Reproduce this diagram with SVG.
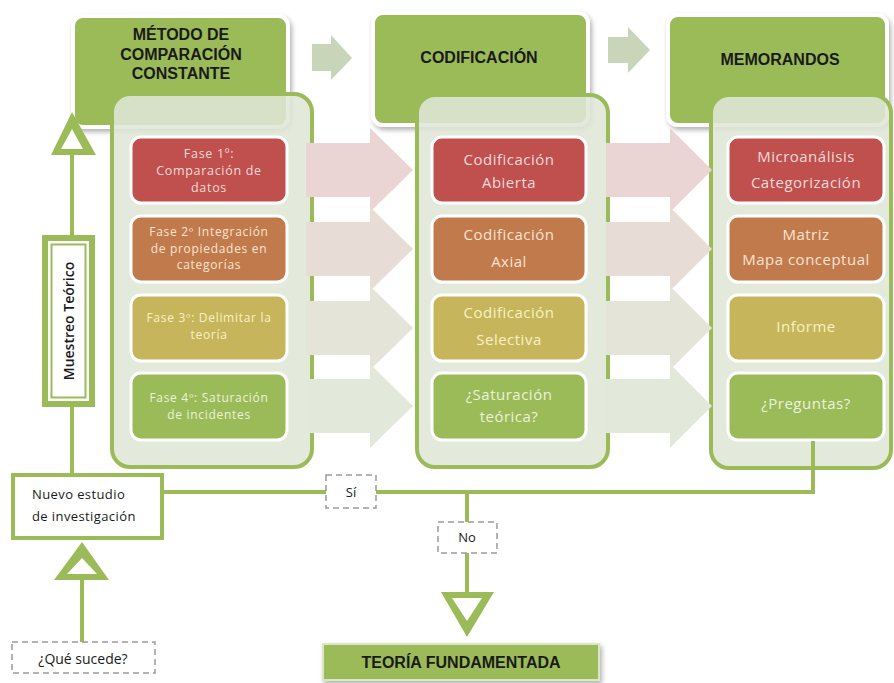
<svg xmlns="http://www.w3.org/2000/svg" width="894" height="683" viewBox="0 0 894 683">
<defs>
<filter id="sh" x="-10%" y="-10%" width="130%" height="130%"><feDropShadow dx="2" dy="3" stdDeviation="2.5" flood-color="#000" flood-opacity="0.3"/></filter>
<style>
.hdr{fill:#9bbb59;stroke:#fff;stroke-width:4;filter:url(#sh)}
.ht{font-family:"Liberation Sans",Arial,sans-serif;font-weight:bold;font-size:16px;fill:#1a1a1a;text-anchor:middle}
.tarr{fill:#c8d5b9}
.pan{fill:#dfe6d6;fill-opacity:0.88;stroke:#9bbb59;stroke-width:4}
.box{stroke:#fff;stroke-width:3}
.red{fill:#c0504d}.org{fill:#c17a4c}.olv{fill:#c7b55b}.grn{fill:#9bbb59}
.ar{fill:#ebd4d4}.ao{fill:#e7ddd6}.av{fill:#e5e4d8}.ag{fill:#e2e9da}
.t{font-family:"Open Sans","Liberation Sans",sans-serif;text-anchor:middle}
.p1{font-size:12px;letter-spacing:0.7px}
.p2{font-size:15px;letter-spacing:0.5px}
.tr{fill:#f3dada}.to{fill:#fbe3d2}.tv{fill:#f9f1c6}.tg{fill:#ebf2dc}
.ln{fill:none;stroke:#9bbb59;stroke-width:4}
.tri{fill:#9bbb59}
.tin{fill:#fff}
.dash{fill:#fff;stroke:#9a9a9a;stroke-width:1.5;stroke-dasharray:6 4}
.lbl{font-family:"Open Sans","Liberation Sans",sans-serif;font-size:13px;fill:#1a1a1a}
</style>
</defs>
<rect width="894" height="683" fill="#fff"/>

<g id="hdr-metodo">
<rect class="hdr" x="73" y="16" width="215" height="111" rx="10"/>
<text class="ht" x="181" y="40">MÉTODO DE</text>
<text class="ht" x="181" y="60">COMPARACIÓN</text>
<text class="ht" x="181" y="79">CONSTANTE</text>
</g>
<g id="hdr-codificacion">
<rect class="hdr" x="373" y="13" width="215" height="112" rx="10"/>
<text class="ht" x="479" y="63">CODIFICACIÓN</text>
</g>
<g id="hdr-memorandos">
<rect class="hdr" x="668" y="15" width="219" height="110" rx="10"/>
<text class="ht" x="780" y="65">MEMORANDOS</text>
</g>
<g id="top-arrows">
<path class="tarr" d="M312,44 L331,44 L331,35 L352,58 L331,80 L331,71 L312,71 Z"/>
<path class="tarr" d="M608,37 L628,37 L628,27 L650,50 L628,73 L628,63 L608,63 Z"/>
</g>

<g id="panels">
<rect class="pan" x="112" y="94" width="200" height="373" rx="18"/>
<rect class="pan" x="417" y="95" width="191" height="372" rx="18"/>
<rect class="pan" x="711" y="95" width="180" height="373" rx="18"/>
</g>

<g id="row-arrows">
<path class="ar" d="M306,143 L370,143 L370,128 L413,170 L370,212 L370,197 L306,197 Z"/>
<path class="ao" d="M306,222 L370,222 L370,207 L413,249 L370,291 L370,276 L306,276 Z"/>
<path class="av" d="M306,301 L370,301 L370,286 L413,328 L370,370 L370,355 L306,355 Z"/>
<path class="ag" d="M306,379 L370,379 L370,364 L413,406 L370,448 L370,433 L306,433 Z"/>
<path class="ar" d="M606,143 L670,143 L670,128 L712,170 L670,212 L670,197 L606,197 Z"/>
<path class="ao" d="M606,222 L670,222 L670,207 L712,249 L670,291 L670,276 L606,276 Z"/>
<path class="av" d="M606,301 L670,301 L670,286 L712,328 L670,370 L670,355 L606,355 Z"/>
<path class="ag" d="M606,379 L670,379 L670,364 L712,406 L670,448 L670,433 L606,433 Z"/>
</g>

<g id="fase1">
<rect class="box red" x="131" y="137" width="156" height="66" rx="10"/>
<text class="t p1 tr" style="font-size:12.5px" x="209" y="158">Fase 1º:</text>
<text class="t p1 tr" style="font-size:12.5px" x="209" y="175">Comparación de</text>
<text class="t p1 tr" style="font-size:12.5px" x="209" y="192">datos</text>
</g>
<g id="fase2">
<rect class="box org" x="131" y="216" width="156" height="66" rx="10"/>
<text class="t p1 to" x="209" y="236">Fase 2º Integración</text>
<text class="t p1 to" x="209" y="252.5">de propiedades en</text>
<text class="t p1 to" x="209" y="269">categorías</text>
</g>
<g id="fase3">
<rect class="box olv" x="131" y="295" width="156" height="66" rx="10"/>
<text class="t p1 tv" x="209" y="322">Fase 3º: Delimitar la</text>
<text class="t p1 tv" x="209" y="339">teoría</text>
</g>
<g id="fase4">
<rect class="box grn" x="131" y="373" width="156" height="67" rx="10"/>
<text class="t p1 tg" x="209" y="402">Fase 4º: Saturación</text>
<text class="t p1 tg" x="209" y="419">de incidentes</text>
</g>

<g id="cod-abierta">
<rect class="box red" x="432" y="137" width="154" height="66" rx="10"/>
<text class="t p2 tr" x="509" y="165">Codificación</text>
<text class="t p2 tr" x="509" y="188">Abierta</text>
</g>
<g id="cod-axial">
<rect class="box org" x="432" y="216" width="154" height="66" rx="10"/>
<text class="t p2 to" x="509" y="240">Codificación</text>
<text class="t p2 to" x="509" y="267">Axial</text>
</g>
<g id="cod-selectiva">
<rect class="box olv" x="432" y="295" width="154" height="66" rx="10"/>
<text class="t p2 tv" x="509" y="318">Codificación</text>
<text class="t p2 tv" x="509" y="345">Selectiva</text>
</g>
<g id="saturacion">
<rect class="box grn" x="432" y="373" width="154" height="67" rx="10"/>
<text class="t p2 tg" x="509" y="400">¿Saturación</text>
<text class="t p2 tg" x="509" y="422">teórica?</text>
</g>

<g id="microanalisis">
<rect class="box red" x="728" y="137" width="156" height="66" rx="10"/>
<text class="t p2 tr" x="806" y="162">Microanálisis</text>
<text class="t p2 tr" x="806" y="188">Categorización</text>
</g>
<g id="matriz">
<rect class="box org" x="728" y="216" width="156" height="66" rx="10"/>
<text class="t p2 to" x="806" y="240">Matriz</text>
<text class="t p2 to" x="806" y="265">Mapa conceptual</text>
</g>
<g id="informe">
<rect class="box olv" x="728" y="295" width="156" height="66" rx="10"/>
<text class="t p2 tv" x="806" y="332">Informe</text>
</g>
<g id="preguntas">
<rect class="box grn" x="728" y="373" width="156" height="67" rx="10"/>
<text class="t p2 tg" x="806" y="409">¿Preguntas?</text>
</g>

<g id="connectors">
<path class="ln" d="M72,155 V235 M72,407 V475"/>
<path class="ln" d="M162,492 H813 V441"/>
<path class="ln" d="M467,492 V522 M467,553 V593"/>
<path class="ln" d="M82,579 V642"/>
<polygon class="tri" points="72,112 51,155 96,155"/>
<polygon class="tin" points="72,129 61,149 83,149"/>
<polygon class="tri" points="82,542 54,580 109,580"/>
<polygon class="tin" points="82,558 67,574 97,574"/>
<polygon class="tri" points="441,592 494,592 467,637"/>
<polygon class="tin" points="452,598 482,598 467,621"/>
<g id="label-si">
<rect class="dash" x="326" y="475" width="50" height="33"/>
<text class="lbl" x="351" y="497" text-anchor="middle">Sí</text>
</g>
<g id="label-no">
<rect class="dash" x="438" y="522" width="59" height="31"/>
<text class="lbl" x="467" y="542" text-anchor="middle">No</text>
</g>
</g>

<g id="muestreo">
<rect x="42" y="235" width="53" height="172" fill="#9bbb59"/>
<rect x="48" y="241" width="41" height="160" fill="#fff"/>
<rect x="51.5" y="244.5" width="34" height="153" fill="#fff" stroke="#9bbb59" stroke-width="2"/>
<text class="lbl" style="font-size:14px;font-weight:600" transform="translate(74,321) rotate(-90)" text-anchor="middle">Muestreo Teórico</text>
</g>

<g id="nuevo-estudio">
<rect x="13" y="475" width="149" height="63" fill="#fff" stroke="#9bbb59" stroke-width="4"/>
<text class="lbl" x="32" y="499" style="letter-spacing:0.4px">Nuevo estudio</text>
<text class="lbl" x="32" y="521" style="letter-spacing:0.4px">de investigación</text>
</g>

<g id="que-sucede">
<rect class="dash" x="12" y="642" width="143" height="31"/>
<text class="lbl" x="83" y="664" text-anchor="middle" style="font-size:14px">¿Qué sucede?</text>
</g>

<g id="teoria">
<rect x="323" y="644" width="276" height="36" fill="#9bbb59" stroke="#dbe6c6" stroke-width="2" filter="url(#sh)"/>
<text class="ht" x="461" y="668">TEORÍA FUNDAMENTADA</text>
</g>
</svg>
